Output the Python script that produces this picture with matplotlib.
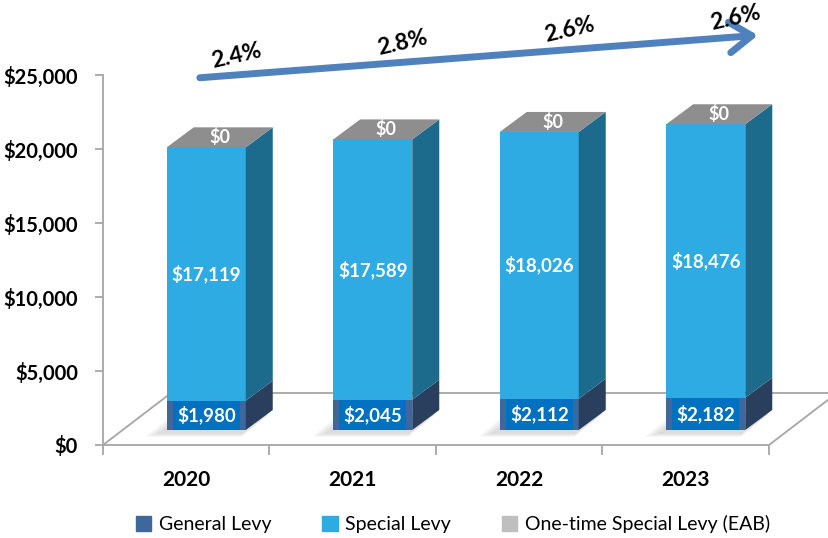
import matplotlib
matplotlib.use('Agg')
import matplotlib.pyplot as plt
from matplotlib.patches import Polygon, Rectangle, FancyArrowPatch, Patch

years = ['2020', '2021', '2022', '2023']
general_levy = [1980, 2045, 2112, 2182]
special_levy = [17119, 17589, 18026, 18476]
onetime_levy = [0, 0, 0, 0]
growth = ['2.4%', '2.8%', '2.6%', '2.6%']

plt.rcParams['font.family'] = ['Lato', 'DejaVu Sans']

W, H = 829, 538
fig = plt.figure(figsize=(W / 100, H / 100), dpi=100)
ax = fig.add_axes([103 / W, 93 / H, 666 / W, 370 / H])
ax.set_xlim(-0.5, 3.5)
ax.set_ylim(0, 25000)

# size of one pixel in data units
px = 4 / 666
py = 25000 / 370

c_gen, c_gen_side, c_gen_box = '#3E679B', '#2A3F5E', '#0070C0'
c_spec, c_spec_side = '#2DABE2', '#1C6A8C'
c_top, c_one = '#8E8E8E', '#BFBFBF'
c_grid = '#A6A6A6'


def poly(pts, fc, z, ec='none', lw=0, alpha=1):
    ax.add_patch(Polygon(pts, closed=True, facecolor=fc, edgecolor=ec, lw=lw,
                         zorder=z, clip_on=False, alpha=alpha))


# floor
fdx, fdy = 68 * px, 52 * py
poly([(-0.5, 0), (3.5, 0), (3.5 + fdx, fdy), (-0.5 + fdx, fdy)], 'white', 1, ec=c_grid, lw=1.3)

# bars
bw = 79 * px
ddx, ddy = 27 * px, 20 * py
base = 15 * py
for i in range(len(years)):
    x0 = i + 20 * px - bw / 2
    x1 = x0 + bw
    g, s, o = general_levy[i], special_levy[i], onetime_levy[i]

    # soft shadow on the floor
    for k in range(8):
        e = (8 - k) * 2.0
        poly([(x0 - (6 + e) * px, base - (3 + e * 0.25) * py), (x1 - 4 * px, base - (3 + e * 0.25) * py),
              (x1 + ddx - 4 * px, base + ddy - 4 * py), (x0 + ddx - (6 + e) * px, base + ddy - 4 * py)],
             '#8C8C8C', 2, alpha=0.04)

    segs = [(base, base + g, c_gen, c_gen_side),
            (base + g, base + g + s, c_spec, c_spec_side),
            (base + g + s, base + g + s + o, c_one, c_top)]
    for y0, y1, fc, sc in segs:
        if y1 <= y0:
            continue
        poly([(x0, y0), (x1, y0), (x1, y1), (x0, y1)], fc, 3)
        poly([(x1, y0), (x1 + ddx, y0 + ddy), (x1 + ddx, y1 + ddy), (x1, y1)], sc, 3)
    top = base + g + s + o
    poly([(x0, top), (x1, top), (x1 + ddx, top + ddy), (x0 + ddx, top + ddy)], c_top, 3)

    # labels
    ax.add_patch(Rectangle((x0 + 6 * px, base), bw - 12 * px, g, facecolor=c_gen_box,
                           edgecolor='none', zorder=4, clip_on=False))
    xc = (x0 + x1) / 2
    ax.text(xc, base + g / 2, f'${g:,.0f}', color='white', fontsize=13.5, fontweight='bold',
            ha='center', va='center', zorder=5)
    ax.text(xc, base + g + s / 2, f'${s:,.0f}', color='white', fontsize=13.5, fontweight='bold',
            ha='center', va='center', zorder=5)
    ax.text(xc + ddx / 2, top + ddy / 2, f'${o:,.0f}', color='white', fontsize=13, fontweight='bold',
            ha='center', va='center', zorder=5)

# growth arrow
a0 = (0.065, 24800)
a1 = (3.45, 27700)
ax.add_patch(FancyArrowPatch(a0, a1, arrowstyle='->,head_length=0.8,head_width=0.55',
                             mutation_scale=20, lw=5, color='#4F81BD', clip_on=False, zorder=5))
slope = (a1[1] - a0[1]) / (a1[0] - a0[0])
for i, lab in enumerate(growth):
    lx = i + 0.3
    ly = a0[1] + slope * (lx - a0[0]) + 1300
    ax.text(lx, ly, lab, fontsize=16.5, fontweight='bold', ha='center', va='center',
            rotation=13, rotation_mode='anchor', zorder=6)

# axes styling
for sp in ['top', 'right']:
    ax.spines[sp].set_visible(False)
ax.spines['left'].set_color(c_grid)
ax.spines['left'].set_linewidth(1.3)
ax.spines['bottom'].set_visible(False)
ax.set_yticks(range(0, 25001, 5000))
ax.set_yticklabels([f'${v:,.0f}' for v in range(0, 25001, 5000)], fontsize=14.5, fontweight='bold')
ax.tick_params(axis='y', length=6, color=c_grid, width=1.3, pad=12)
ax.set_xticks([-0.5, 0.5, 1.5, 2.5, 3.5])
ax.set_xticklabels([])
ax.set_xticks(range(len(years)), minor=True)
ax.set_xticklabels(years, minor=True, fontsize=15, fontweight='bold')
ax.tick_params(axis='x', which='major', length=7, color=c_grid, width=1.3)
ax.tick_params(axis='x', which='minor', length=0, pad=18)
ax.patch.set_visible(False)

handles = [Patch(color=c_gen, label='General Levy'),
           Patch(color=c_spec, label='Special Levy'),
           Patch(color=c_one, label='One-time Special Levy (EAB)')]
fig.legend(handles=handles, loc='center', bbox_to_anchor=(453 / W, 14 / H), ncol=3, frameon=False,
           fontsize=14, handlelength=0.8, handleheight=0.8, handletextpad=0.4, columnspacing=2.6)

fig.savefig('out.png', dpi=100)
